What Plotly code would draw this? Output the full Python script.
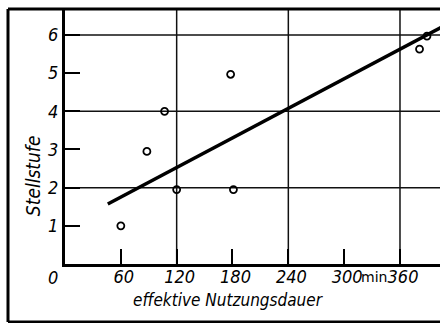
import plotly.graph_objects as go

# Data
duration_min = [60, 88, 107, 120, 178, 181, 381, 389]
stellstufe = [1.0, 2.95, 4.0, 1.95, 4.97, 1.95, 5.63, 5.97]

trend_x = [46, 410]
trend_y = [1.57, 6.27]

x_ticks = [60, 120, 180, 240, 300, 360]
x_tick_labels = ["60", "120", "180", "240", "300", "360"]
y_ticks = [1, 2, 3, 4, 5, 6]
y_tick_labels = ["1", "2", "3", "4", "5", "6"]
grid_x = [120, 240, 360]
grid_y = [2, 4, 6]

X_MAX = 403
Y_MAX = 6.68

tick_font = dict(family="Liberation Sans Narrow, DejaVu Sans Condensed, sans-serif",
                 size=18, color="black", style="italic")
title_font = dict(family="DejaVu Sans Condensed, DejaVu Sans, sans-serif",
                  size=17, color="black", style="italic")

fig = go.Figure()
fig.add_trace(go.Scatter(x=trend_x, y=trend_y, mode="lines",
                         line=dict(color="black", width=3.5),
                         cliponaxis=True, showlegend=False))
fig.add_trace(go.Scatter(x=duration_min, y=stellstufe, mode="markers",
                         marker=dict(symbol="circle-open", size=7, color="black",
                                     line=dict(width=1.8, color="black")),
                         showlegend=False))

shapes = []
for g in grid_x:
    shapes.append(dict(type="line", xref="x", yref="paper", x0=g, x1=g, y0=0, y1=1,
                       line=dict(color="#111", width=1.5), layer="below"))
for g in grid_y:
    shapes.append(dict(type="line", xref="paper", yref="y", x0=0, x1=1, y0=g, y1=g,
                       line=dict(color="#111", width=1.5), layer="below"))
# outer frame
fx0, fy0 = -0.152, -0.227
shapes += [
    dict(type="line", xref="paper", yref="paper", x0=fx0, x1=fx0, y0=fy0, y1=1,
         line=dict(color="black", width=3)),
    dict(type="line", xref="paper", yref="paper", x0=fx0, x1=1.05, y0=fy0, y1=fy0,
         line=dict(color="black", width=3)),
    dict(type="line", xref="paper", yref="paper", x0=fx0, x1=1.05, y0=1, y1=1,
         line=dict(color="black", width=3)),
]

annotations = [
    dict(text="0", xref="paper", yref="paper", x=-0.032, y=-0.051,
         showarrow=False, font=tick_font, xanchor="center", yanchor="middle"),
    dict(text="min", xref="x", yref="paper", x=332, y=-0.051,
         showarrow=False, font=dict(family="DejaVu Sans, sans-serif", size=14, color="black"),
         xanchor="center", yanchor="middle"),
    dict(text="effektive Nutzungsdauer", xref="paper", yref="paper", x=0.437, y=-0.141,
         showarrow=False, font=title_font, xanchor="center", yanchor="middle"),
    dict(text="Stellstufe", xref="paper", yref="paper", x=-0.085, y=0.345,
         showarrow=False, font=dict(title_font, size=19), textangle=-90,
         xanchor="center", yanchor="middle"),
]

fig.update_layout(
    width=440, height=323,
    margin=dict(l=65, r=0, t=9, b=59),
    paper_bgcolor="white", plot_bgcolor="white",
    shapes=shapes, annotations=annotations,
    xaxis=dict(range=[0, X_MAX], tickmode="array", tickvals=x_ticks, ticktext=x_tick_labels,
               ticks="inside", ticklen=15, tickwidth=2, tickcolor="black",
               showgrid=False, zeroline=False, showline=True, linecolor="black", linewidth=3,
               tickfont=tick_font, ticklabelshift=3, ticklabelstandoff=-6, fixedrange=True),
    yaxis=dict(range=[0, Y_MAX], tickmode="array", tickvals=y_ticks, ticktext=y_tick_labels,
               ticks="inside", ticklen=15, tickwidth=2, tickcolor="black",
               showgrid=False, zeroline=False, showline=True, linecolor="black", linewidth=3,
               tickfont=tick_font, fixedrange=True),
)

fig.write_html("out.html", config={"displayModeBar": False},
               post_script="document.body.style.margin='0';document.body.style.overflow='hidden';")
